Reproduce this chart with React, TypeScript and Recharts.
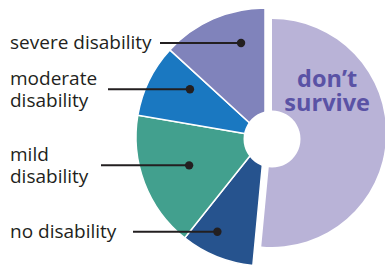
import { Cell, Pie, PieChart } from "recharts";

// order runs clockwise from 12 o'clock
const categories = ["don't survive", "no disability", "mild disability", "moderate disability", "severe disability"];
const shares = [51.5, 9.2, 17, 9.1, 13.2];
const labelLines = [["don\u2019t", "survive"], ["no disability"], ["mild", "disability"], ["moderate", "disability"], ["severe disability"]];

const colors = ["#b9b3d7", "#26538e", "#42a08e", "#1a78c1", "#8083bb"];

const data = categories.map((name, i) => ({ name, value: shares[i] }));
const holeData = [{ name: "hole", value: 1 }];

// callout anchors: angle (deg) and radius from the pie centre, plus where the leader line starts
const callouts: Record<number, { angle: number; r: number; lineX: number }> = {
  1: { angle: 243.3, r: 106, lineX: 133 },
  2: { angle: 200.5, r: 81, lineX: 101 },
  3: { angle: 147.5, r: 89, lineX: 108 },
  4: { angle: 104.3, r: 97, lineX: 160 },
};

const RAD = Math.PI / 180;
const FONT = "'Open Sans', 'Noto Sans', sans-serif";

function renderCallout(props: any) {
  const { cx, cy, index } = props;
  const c = callouts[index];
  if (!c) return null;
  const x = cx + c.r * Math.cos(c.angle * RAD);
  const y = cy - c.r * Math.sin(c.angle * RAD);
  const lines = labelLines[index];
  const first = lines.length === 1 ? y + 6 : y - 4;
  return (
    <g key={`callout-${index}`}>
      <line x1={c.lineX} y1={y} x2={x} y2={y} stroke="#231f20" strokeWidth={2} />
      <circle cx={x} cy={y} r={4.2} fill="#231f20" />
      {lines.map((t, k) => (
        <text key={k} x={10} y={first + k * 22} fontFamily={FONT} fontSize={19} fill="#231f20">
          {t}
        </text>
      ))}
    </g>
  );
}

function renderSurviveLabel(props: any) {
  const { cx, cy, index } = props;
  if (index !== 0) return null;
  const x = cx + 72 * Math.cos(40 * RAD);
  const y = cy - 72 * Math.sin(40 * RAD);
  return (
    <g key="ds">
      {labelLines[0].map((t, k) => (
        <text
          key={k}
          x={x}
          y={y + k * 24}
          textAnchor="middle"
          fontFamily={FONT}
          fontWeight={700}
          fontSize={23.5}
          fill="#5a52a5"
        >
          {t}
        </text>
      ))}
    </g>
  );
}

export default function App() {
  return (
    <div style={{ position: "absolute", left: 0, top: 0, width: 385, height: 265, background: "#fff" }}>
      <PieChart width={385} height={265} margin={{ top: 0, right: 0, bottom: 0, left: 0 }}>
        <Pie
          data={data}
          dataKey="value"
          nameKey="name"
          cx={265}
          cy={137}
          outerRadius={129}
          startAngle={90}
          endAngle={-270}
          stroke="#fff"
          strokeWidth={1.5}
          label={renderCallout}
          labelLine={false}
          isAnimationActive={false}
        >
          {data.map((d, i) => (
            <Cell key={d.name} fill={i === 0 ? "none" : colors[i]} stroke={i === 0 ? "none" : "#fff"} />
          ))}
        </Pie>
        <Pie
          data={data}
          dataKey="value"
          nameKey="name"
          cx={272}
          cy={133}
          outerRadius={114}
          startAngle={90}
          endAngle={-270}
          stroke="none"
          label={renderSurviveLabel}
          labelLine={false}
          isAnimationActive={false}
        >
          {data.map((d, i) => (
            <Cell key={d.name} fill={i === 0 ? colors[0] : "none"} />
          ))}
        </Pie>
        <Pie
          data={holeData}
          dataKey="value"
          cx={272}
          cy={139}
          outerRadius={28.5}
          fill="#fff"
          stroke="none"
          isAnimationActive={false}
        />
      </PieChart>
    </div>
  );
}
